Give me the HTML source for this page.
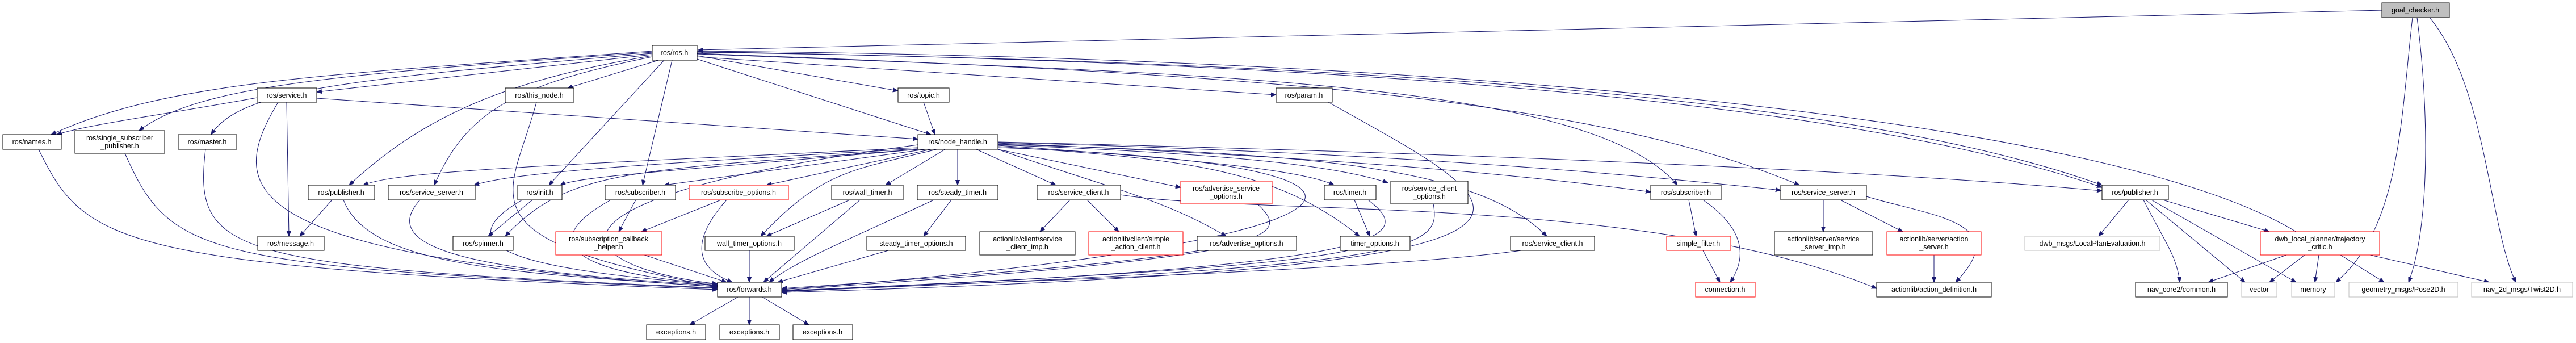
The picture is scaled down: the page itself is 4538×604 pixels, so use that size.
<!DOCTYPE html>
<html><head><meta charset="utf-8"><style>
html,body{margin:0;padding:0;background:#fff;}
svg{display:block;}
text{font-family:"Liberation Sans",sans-serif;font-size:12.5px;fill:#000;text-anchor:middle;}
.n rect{fill:#fff;stroke:#000;stroke-width:1;}
.r rect{stroke:#ff0000;}
.g rect{stroke:#bfbfbf;}
path{fill:none;stroke:#191970;stroke-width:1;}
</style></head><body>
<svg width="4538" height="604" viewBox="0 0 4538 604" xmlns="http://www.w3.org/2000/svg">
<defs><marker id="a" viewBox="0 0 10 10" refX="10" refY="5" markerWidth="9" markerHeight="9" orient="auto" markerUnits="userSpaceOnUse"><path d="M0 1 L10 5 L0 9 z" style="fill:#191970;stroke:#191970"/></marker></defs>
<g style="marker-end:url(#a)">
<path d="M4196 18 L1230 88"/>
<path d="M1149 90 C600 130 300 140 90 237"/>
<path d="M1149 92 C600 130 350 150 245 230"/>
<path d="M1149 94 C600 140 420 160 372 237"/>
<path d="M1149 96 L558 162"/>
<path d="M1160 106 L1000 155"/>
<path d="M1149 98 C900 140 750 200 615 326"/>
<path d="M1149 100 C900 150 820 200 765 326"/>
<path d="M1170 106 L967 326"/>
<path d="M1184 106 L1132 326"/>
<path d="M1228 98 L1582 160"/>
<path d="M1228 104 L1640 237"/>
<path d="M1228 100 L2248 167"/>
<path d="M1228 95 C2100 130 2800 140 2955 326"/>
<path d="M1228 94 C2200 130 2800 170 3170 326"/>
<path d="M1228 92 C2500 110 3300 180 3703 326"/>
<path d="M1228 91 C2500 112 3300 190 3703 330"/>
<path d="M4045 408 C3700 200 2500 100 1230 90"/>
<path d="M453 172 C300 200 150 220 100 237"/>
<path d="M558 173 L1617 245"/>
<path d="M505 180 L509 416"/>
<path d="M490 180 C400 330 400 450 1264 505"/>
<path d="M945 180 C900 350 800 420 1264 505"/>
<path d="M68 263 C150 430 200 470 1264 510"/>
<path d="M220 270 C300 450 350 470 1264 508"/>
<path d="M362 263 C340 450 400 470 1264 507"/>
<path d="M1627 180 L1647 237"/>
<path d="M1617 260 C1000 290 700 300 640 326"/>
<path d="M1617 262 C1100 290 900 305 835 326"/>
<path d="M1617 263 C1200 300 1020 310 987 326"/>
<path d="M1620 263 C1100 300 1000 300 890 416"/>
<path d="M1630 263 L1170 326"/>
<path d="M1640 263 L1350 326"/>
<path d="M1650 263 C1500 300 1450 300 1340 416"/>
<path d="M1665 263 L1560 326"/>
<path d="M1687 263 L1687 326"/>
<path d="M1720 263 L1860 326"/>
<path d="M1758 263 L2080 330"/>
<path d="M1758 263 C1950 330 2050 350 2160 416"/>
<path d="M1758 256 C2100 280 2300 300 2350 326"/>
<path d="M1758 255 C2150 270 2350 290 2445 322"/>
<path d="M1758 258 C2100 280 2250 300 2395 416"/>
<path d="M1758 254 C2300 270 2600 290 2725 416"/>
<path d="M1758 252 C2400 280 2700 310 2908 338"/>
<path d="M1758 251 C2500 270 2900 310 3137 335"/>
<path d="M1758 250 C2600 270 3300 300 3703 336"/>
<path d="M1758 260 C2600 290 2450 430 1377 510"/>
<path d="M1617 255 C900 350 1000 470 1264 500"/>
<path d="M585 352 L528 416"/>
<path d="M605 352 C650 470 900 480 1264 505"/>
<path d="M740 352 C650 450 900 480 1264 503"/>
<path d="M938 352 L860 416"/>
<path d="M920 352 C750 450 1000 480 1264 502"/>
<path d="M1120 352 L1090 408"/>
<path d="M1076 352 C900 450 1100 490 1264 500"/>
<path d="M1135 449 L1280 497"/>
<path d="M1270 352 L1130 408"/>
<path d="M1280 352 C1220 420 1220 470 1290 497"/>
<path d="M1497 352 L1350 416"/>
<path d="M1515 352 L1345 497"/>
<path d="M1320 441 L1320 497"/>
<path d="M1676 352 L1627 416"/>
<path d="M1645 352 C1500 420 1400 460 1355 497"/>
<path d="M1565 441 L1370 497"/>
<path d="M1885 352 L1832 408"/>
<path d="M1915 352 L1971 408"/>
<path d="M1974 343 C2200 380 2900 340 3306 508"/>
<path d="M2215 359 C2280 420 2250 450 1377 508"/>
<path d="M2130 441 C1900 480 1500 500 1377 512"/>
<path d="M2386 352 L2413 416"/>
<path d="M2410 352 C2500 420 2450 470 1377 512"/>
<path d="M2375 441 C2200 480 1600 500 1377 513"/>
<path d="M2525 359 C2540 440 2500 470 1377 513"/>
<path d="M2680 441 C2400 480 1600 500 1377 514"/>
<path d="M2340 180 C2700 380 2900 470 1377 515"/>
<path d="M1300 523 L1215 572"/>
<path d="M1320 523 L1320 572"/>
<path d="M1343 523 L1425 572"/>
<path d="M2975 352 L2988 416"/>
<path d="M3000 352 C3070 400 3080 450 3048 497"/>
<path d="M3000 441 L3030 497"/>
<path d="M3212 352 L3212 408"/>
<path d="M3242 352 L3352 408"/>
<path d="M3288 346 C3400 380 3550 390 3445 497"/>
<path d="M3407 449 L3407 497"/>
<path d="M3750 352 L3697 416"/>
<path d="M3776 352 C3810 420 3835 450 3840 497"/>
<path d="M3780 352 L3955 497"/>
<path d="M3790 352 L4045 497"/>
<path d="M3810 352 L3998 408"/>
<path d="M4028 449 L3890 497"/>
<path d="M4060 449 L3998 497"/>
<path d="M4085 449 L4078 497"/>
<path d="M4123 449 L4200 497"/>
<path d="M4175 449 L4385 497"/>
<path d="M4250 31 C4230 200 4230 400 4115 497"/>
<path d="M4258 31 C4280 200 4280 400 4243 497"/>
<path d="M4280 31 C4380 150 4385 400 4432 497"/>
</g>
<!-- nodes -->
<g class="n"><rect x="4196" y="5" width="119" height="26" style="fill:#bfbfbf"/><text x="4255" y="22">goal_checker.h</text></g>
<g class="n"><rect x="1149" y="80" width="79" height="26"/><text x="1188" y="97">ros/ros.h</text></g>
<g class="n"><rect x="453" y="155" width="105" height="25"/><text x="505" y="172">ros/service.h</text></g>
<g class="n"><rect x="890" y="155" width="121" height="25"/><text x="950" y="172">ros/this_node.h</text></g>
<g class="n"><rect x="1582" y="155" width="90" height="25"/><text x="1627" y="172">ros/topic.h</text></g>
<g class="n"><rect x="2248" y="155" width="99" height="25"/><text x="2297" y="172">ros/param.h</text></g>
<g class="n"><rect x="5" y="237" width="103" height="26"/><text x="56" y="254">ros/names.h</text></g>
<g class="n"><rect x="132" y="230" width="158" height="40"/><text x="211" y="247">ros/single_subscriber</text><text x="211" y="261">_publisher.h</text></g>
<g class="n"><rect x="314" y="237" width="103" height="26"/><text x="365" y="254">ros/master.h</text></g>
<g class="n"><rect x="1617" y="237" width="141" height="26"/><text x="1687" y="254">ros/node_handle.h</text></g>
<g class="n"><rect x="543" y="326" width="117" height="26"/><text x="601" y="343">ros/publisher.h</text></g>
<g class="n"><rect x="684" y="326" width="153" height="26"/><text x="760" y="343">ros/service_server.h</text></g>
<g class="n"><rect x="912" y="326" width="78" height="26"/><text x="951" y="343">ros/init.h</text></g>
<g class="n"><rect x="1066" y="326" width="124" height="26"/><text x="1128" y="343">ros/subscriber.h</text></g>
<g class="n r"><rect x="1214" y="326" width="175" height="26"/><text x="1301" y="343">ros/subscribe_options.h</text></g>
<g class="n"><rect x="1465" y="326" width="126" height="26"/><text x="1528" y="343">ros/wall_timer.h</text></g>
<g class="n"><rect x="1616" y="326" width="142" height="26"/><text x="1687" y="343">ros/steady_timer.h</text></g>
<g class="n"><rect x="1827" y="326" width="147" height="26"/><text x="1900" y="343">ros/service_client.h</text></g>
<g class="n r"><rect x="2080" y="319" width="161" height="40"/><text x="2160" y="336">ros/advertise_service</text><text x="2160" y="350">_options.h</text></g>
<g class="n"><rect x="2333" y="326" width="91" height="26"/><text x="2378" y="343">ros/timer.h</text></g>
<g class="n"><rect x="2450" y="319" width="136" height="40"/><text x="2518" y="336">ros/service_client</text><text x="2518" y="350">_options.h</text></g>
<g class="n"><rect x="2908" y="326" width="124" height="26"/><text x="2970" y="343">ros/subscriber.h</text></g>
<g class="n"><rect x="3137" y="326" width="151" height="26"/><text x="3212" y="343">ros/service_server.h</text></g>
<g class="n"><rect x="3703" y="326" width="117" height="26"/><text x="3761" y="343">ros/publisher.h</text></g>
<g class="n"><rect x="454" y="416" width="117" height="25"/><text x="512" y="433">ros/message.h</text></g>
<g class="n"><rect x="798" y="416" width="106" height="25"/><text x="851" y="433">ros/spinner.h</text></g>
<g class="n r"><rect x="979" y="408" width="187" height="41"/><text x="1072" y="425">ros/subscription_callback</text><text x="1072" y="439">_helper.h</text></g>
<g class="n"><rect x="1242" y="416" width="157" height="25"/><text x="1320" y="433">wall_timer_options.h</text></g>
<g class="n"><rect x="1527" y="416" width="174" height="25"/><text x="1614" y="433">steady_timer_options.h</text></g>
<g class="n"><rect x="1726" y="408" width="168" height="41"/><text x="1810" y="425">actionlib/client/service</text><text x="1810" y="439">_client_imp.h</text></g>
<g class="n r"><rect x="1918" y="408" width="166" height="41"/><text x="2001" y="425">actionlib/client/simple</text><text x="2001" y="439">_action_client.h</text></g>
<g class="n"><rect x="2109" y="416" width="175" height="25"/><text x="2196" y="433">ros/advertise_options.h</text></g>
<g class="n"><rect x="2361" y="416" width="123" height="25"/><text x="2422" y="433">timer_options.h</text></g>
<g class="n"><rect x="2661" y="416" width="148" height="25"/><text x="2735" y="433">ros/service_client.h</text></g>
<g class="n r"><rect x="2936" y="416" width="113" height="25"/><text x="2992" y="433">simple_filter.h</text></g>
<g class="n"><rect x="3126" y="408" width="173" height="41"/><text x="3212" y="425">actionlib/server/service</text><text x="3212" y="439">_server_imp.h</text></g>
<g class="n r"><rect x="3324" y="408" width="166" height="41"/><text x="3407" y="425">actionlib/server/action</text><text x="3407" y="439">_server.h</text></g>
<g class="n g"><rect x="3567" y="416" width="238" height="25"/><text x="3686" y="433">dwb_msgs/LocalPlanEvaluation.h</text></g>
<g class="n r"><rect x="3982" y="408" width="210" height="41"/><text x="4087" y="425">dwb_local_planner/trajectory</text><text x="4087" y="439">_critic.h</text></g>
<g class="n"><rect x="1264" y="497" width="113" height="26"/><text x="1320" y="514">ros/forwards.h</text></g>
<g class="n r"><rect x="2987" y="497" width="105" height="26"/><text x="3039" y="514">connection.h</text></g>
<g class="n"><rect x="3306" y="497" width="202" height="26"/><text x="3407" y="514">actionlib/action_definition.h</text></g>
<g class="n"><rect x="3762" y="497" width="162" height="26"/><text x="3843" y="514">nav_core2/common.h</text></g>
<g class="n g"><rect x="3949" y="497" width="62" height="26"/><text x="3980" y="514">vector</text></g>
<g class="n g"><rect x="4037" y="497" width="76" height="26"/><text x="4075" y="514">memory</text></g>
<g class="n g"><rect x="4138" y="497" width="192" height="26"/><text x="4234" y="514">geometry_msgs/Pose2D.h</text></g>
<g class="n g"><rect x="4354" y="497" width="178" height="26"/><text x="4443" y="514">nav_2d_msgs/Twist2D.h</text></g>
<g class="n"><rect x="1139" y="572" width="104" height="26"/><text x="1191" y="589">exceptions.h</text></g>
<g class="n"><rect x="1268" y="572" width="105" height="26"/><text x="1320" y="589">exceptions.h</text></g>
<g class="n"><rect x="1397" y="572" width="105" height="26"/><text x="1449" y="589">exceptions.h</text></g>
</svg>
</body></html>
